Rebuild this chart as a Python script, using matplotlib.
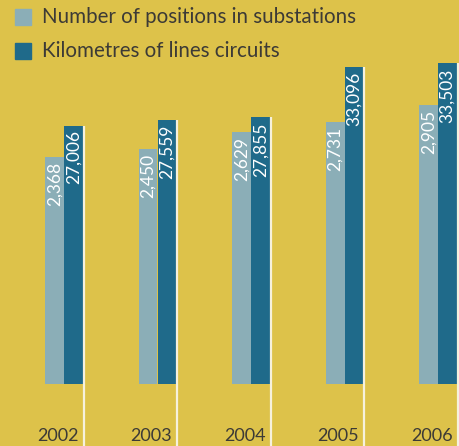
import matplotlib
matplotlib.use("Agg")
import matplotlib.pyplot as plt
import matplotlib.transforms as mtransforms
from matplotlib.patches import Rectangle

years = ["2002", "2003", "2004", "2005", "2006"]
positions = [2368, 2450, 2629, 2731, 2905]
kilometres = [27006, 27559, 27855, 33096, 33503]
series_names = ["Number of positions in substations", "Kilometres of lines circuits"]

BG = "#DDC24A"
LIGHT = "#8BAEB7"
DARK = "#1F6A8A"
TXT = "#3C3A36"
SEP = "#F6F1DE"

plt.rcParams["font.family"] = ["Lato", "DejaVu Sans"]

W, H = 459, 446
fig = plt.figure(figsize=(W / 100, H / 100), dpi=100, facecolor=BG)
ax = fig.add_axes([0, 0, 1, 1], facecolor=BG)
ax2 = ax.twinx()
ax2.set_facecolor("none")

px_per_km = 0.00957
base_px = 62
ylo = -base_px / px_per_km
yhi = (H - base_px) / px_per_km
ax.set_ylim(ylo, yhi)
ax2.set_ylim(ylo / 10.03, yhi / 10.03)

grp = 93.5
x0 = 64
ax.set_xlim(-x0 / grp, (W - x0) / grp)

xs = list(range(len(years)))
bw = 0.2
ax2.bar([x - bw / 2 for x in xs], positions, width=bw, color=LIGHT, zorder=2)
ax.bar([x + bw / 2 for x in xs], kilometres, width=bw, color=DARK, zorder=2)
ax.vlines([x + bw + 0.012 for x in xs], ylo, kilometres, color=SEP, lw=1.6, zorder=3)

for x, v in zip(xs, positions):
    ax2.annotate(f"{v:,}", (x - bw / 2, v), xytext=(0, -3.5), textcoords="offset points",
                 rotation=90, ha="center", va="top", color="white", fontsize=12.5)
for x, v in zip(xs, kilometres):
    ax.annotate(f"{v:,}", (x + bw / 2, v), xytext=(0, -3.5), textcoords="offset points",
                rotation=90, ha="center", va="top", color="white", fontsize=12.5)

tr = mtransforms.blended_transform_factory(ax.transData, ax.transAxes)
for x, y in zip(xs, years):
    ax.text(x + bw - 0.045, 10 / H, y, transform=tr, ha="right", va="center",
            fontsize=13, color=TXT)

for a in (ax, ax2):
    a.set_xticks([])
    a.set_yticks([])
    for s in a.spines.values():
        s.set_visible(False)

# legend
for i, (name, col) in enumerate(zip(series_names, [LIGHT, DARK])):
    yc = 17 + 34 * i
    fig.patches.append(Rectangle((15 / W, 1 - (yc + 8) / H), 16 / W, 16 / H,
                                 transform=fig.transFigure, color=col))
    fig.text(42 / W, 1 - yc / H, name, ha="left", va="center", fontsize=14.8, color=TXT)

fig.savefig("out.png", dpi=100, facecolor=BG)
